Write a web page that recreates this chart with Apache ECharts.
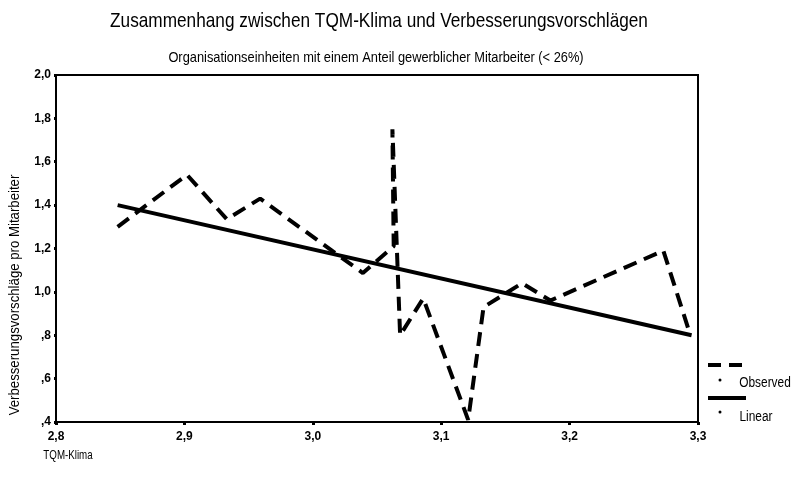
<!DOCTYPE html>
<html>
<head>
<meta charset="utf-8">
<script src="https://cdn.jsdelivr.net/npm/echarts@6/dist/echarts.min.js"></script>
<style>
    html, body { margin: 0; padding: 0; background: #fff; }
    #chart { width: 795px; height: 482px; }
</style>
</head>
<body>
<div id="chart"></div>
<script>
// observed means, TQM-Klima vs. suggestions per employee
const observedX = [2.848, 2.902, 2.933, 2.959, 3.039, 3.063, 3.062, 3.068, 3.086, 3.121, 3.133, 3.163, 3.185, 3.273, 3.293];
const observedY = [1.30, 1.54, 1.335, 1.43, 1.087, 1.21, 1.75, 0.80, 0.97, 0.41, 0.93, 1.04, 0.96, 1.19, 0.82];
// linear fit, endpoints
const linearX = [2.848, 3.295];
const linearY = [1.40, 0.80];

const titleText = 'Zusammenhang zwischen TQM-Klima und Verbesserungsvorschlägen';
const subText = 'Organisationseinheiten mit einem Anteil gewerblicher Mitarbeiter (< 26%)';
const xName = 'TQM-Klima';
const yName = 'Verbesserungsvorschläge pro Mitarbeiter';

const font = '"Liberation Sans", Arial, sans-serif';

// SPSS style: ",8" instead of "0,8"
function germanNum(v) {
    let s = v.toFixed(1).replace('.', ',');
    if (s.startsWith('0')) s = s.slice(1);
    return s;
}

// narrow text (no condensed font installed, so squeeze it)
function narrowText(x, y, text, size, sx, extra) {
    return Object.assign({
        type: 'text', x: x, y: y, scaleX: sx,
        style: { text: text, font: size + 'px ' + font, fill: '#000', align: 'center', verticalAlign: 'middle' }
    }, extra || {});
}

let chart = echarts.init(document.getElementById('chart'));
let option = {
    backgroundColor: '#fff',
    animation: false,
    grid: {
        left: 56, right: 97, top: 75, bottom: 60,
        show: true, borderColor: '#000', borderWidth: 2
    },
    xAxis: {
        type: 'value', min: 2.8, max: 3.3, interval: 0.1,
        axisLine: { show: true, lineStyle: { color: '#000', width: 2 } },
        axisTick: { show: true, length: 3, lineStyle: { color: '#000', width: 3 } },
        axisLabel: {
            fontFamily: font, fontSize: 12, fontWeight: 'bold', color: '#000', margin: 9,
            formatter: germanNum
        },
        splitLine: { show: false }
    },
    yAxis: {
        type: 'value', min: 0.4, max: 2.0, interval: 0.2,
        axisLine: { show: true, lineStyle: { color: '#000', width: 2 } },
        axisTick: { show: true, length: 2, lineStyle: { color: '#000', width: 3 } },
        axisLabel: {
            fontFamily: font, fontSize: 12, fontWeight: 'bold', color: '#000', margin: 5,
            formatter: germanNum
        },
        splitLine: { show: false }
    },
    series: [
        {
            name: 'Observed', type: 'line', showSymbol: false,
            data: observedX.map((x, i) => [x, observedY[i]]),
            lineStyle: { color: '#000', width: 4, type: [14, 8] }
        },
        {
            name: 'Linear', type: 'line', showSymbol: false,
            data: linearX.map((x, i) => [x, linearY[i]]),
            lineStyle: { color: '#000', width: 4 }
        }
    ],
    graphic: [
        narrowText(379, 21, titleText, 21, 0.82),
        narrowText(376, 58, subText, 15, 0.855),
        narrowText(15, 295, yName, 15, 0.88, { rotation: Math.PI / 2 }),
        narrowText(68, 455, xName, 13, 0.75),
        // legend
        {
            type: 'line', shape: { x1: 708, y1: 365, x2: 746, y2: 365 },
            style: { stroke: '#000', lineWidth: 4, lineDash: [13, 8] }
        },
        { type: 'circle', shape: { cx: 720, cy: 380, r: 1.5 }, style: { fill: '#000' } },
        narrowText(765, 383, 'Observed', 14, 0.85),
        {
            type: 'line', shape: { x1: 708, y1: 398, x2: 746, y2: 398 },
            style: { stroke: '#000', lineWidth: 4 }
        },
        { type: 'circle', shape: { cx: 720, cy: 412, r: 1.5 }, style: { fill: '#000' } },
        narrowText(756, 417, 'Linear', 14, 0.85)
    ]
};
chart.setOption(option);
</script>
</body>
</html>
